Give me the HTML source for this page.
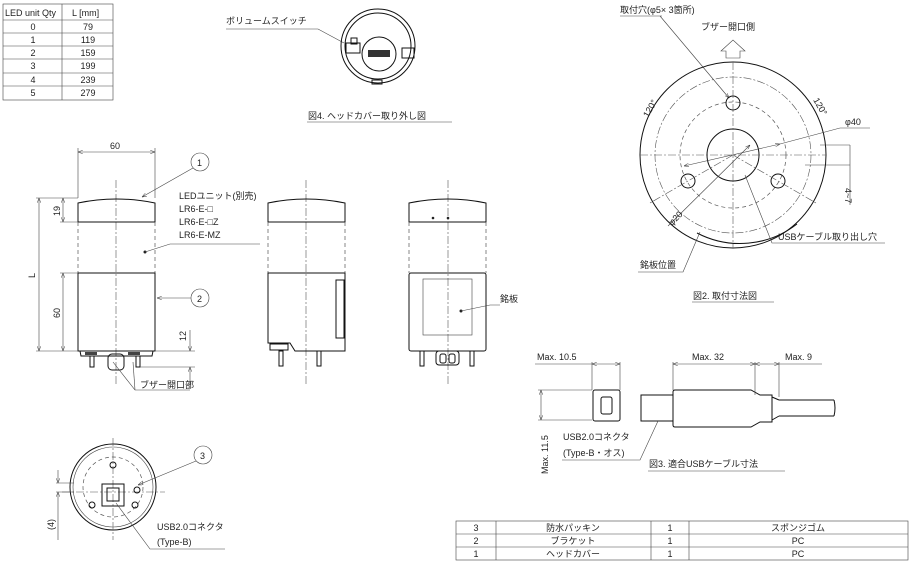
<!DOCTYPE html>
<html><head><meta charset="utf-8"><style>
html,body{margin:0;padding:0;background:#fff;}
svg{display:block;}
text{font-family:"Liberation Sans","Noto Sans CJK JP",sans-serif;font-size:9px;fill:#222;}
.l{stroke:#111;fill:none;stroke-width:1;}
.t{stroke:#444;fill:none;stroke-width:0.6;}
.c{stroke:#555;fill:none;stroke-width:0.6;stroke-dasharray:8 2 2 2;}
.d{stroke:#555;fill:none;stroke-width:0.7;stroke-dasharray:4 3;}
</style></head><body>
<svg width="910" height="561" viewBox="0 0 910 561" xmlns="http://www.w3.org/2000/svg">
<defs><marker id="a" markerWidth="8" markerHeight="6" refX="8" refY="3" orient="auto-start-reverse"><path d="M0,0 L8,3 L0,6" fill="none" stroke="#333" stroke-width="0.8"/></marker></defs>
<!-- top-left table -->
<rect x="3" y="4" width="110" height="96" class="t"/>
<line x1="62" y1="4" x2="62" y2="100" class="t"/>
<g class="t"><line x1="3" y1="20" x2="113" y2="20"/><line x1="3" y1="33" x2="113" y2="33"/><line x1="3" y1="46" x2="113" y2="46"/><line x1="3" y1="59" x2="113" y2="59"/><line x1="3" y1="73" x2="113" y2="73"/><line x1="3" y1="86" x2="113" y2="86"/></g>
<text x="5" y="16">LED unit Qty</text><text x="72" y="16">L [mm]</text>
<g text-anchor="middle"><text x="33" y="30">0</text><text x="88" y="30">79</text><text x="33" y="43">1</text><text x="88" y="43">119</text><text x="33" y="56">2</text><text x="88" y="56">159</text><text x="33" y="69">3</text><text x="88" y="69">199</text><text x="33" y="83">4</text><text x="88" y="83">239</text><text x="33" y="96">5</text><text x="88" y="96">279</text></g>
<!-- head cover removed view -->
<text x="226" y="24" font-size="8">ボリュームスイッチ</text>
<polyline points="226,29 318,29 344,43" class="t"/>
<circle cx="378" cy="46" r="37" class="l"/><circle cx="378" cy="46" r="33" class="l"/>
<circle cx="379" cy="54" r="17" class="l"/>
<rect x="368" y="50" width="22" height="7" fill="#333"/>
<rect x="346" y="43" width="14" height="10" class="l"/><rect x="351" y="38" width="6" height="6" class="l"/>
<rect x="402" y="48" width="12" height="10" class="l"/><rect x="372" y="80" width="10" height="4" class="l"/>
<text x="308" y="119" font-size="8">図4. ヘッドカバー取り外し図</text>
<line x1="307" y1="122" x2="452" y2="122" class="t"/>
<!-- front view 1 -->
<line x1="116" y1="180" x2="116" y2="385" class="c"/>
<line x1="78" y1="148" x2="78" y2="198" class="t"/><line x1="155" y1="148" x2="155" y2="198" class="t"/>
<line x1="78" y1="152" x2="155" y2="152" class="t" marker-start="url(#a)" marker-end="url(#a)"/>
<text x="110" y="149">60</text>
<path d="M78,222 L78,203 Q116,195 155,203 L155,222 Z" class="l"/>
<line x1="78" y1="222" x2="78" y2="273" class="d"/><line x1="155" y1="222" x2="155" y2="273" class="d"/>
<rect x="78" y="273" width="77" height="78" class="l"/>
<path d="M80,351 L153,351 L152,356 L81,356 Z" class="l"/>
<rect x="85" y="352" width="12" height="3" fill="#444"/><rect x="128" y="352" width="12" height="3" fill="#444"/>
<rect x="90" y="356" width="4" height="11" class="l"/><rect x="136" y="356" width="4" height="11" class="l"/>
<rect x="108" y="354" width="16" height="16" rx="4" class="l"/>
<line x1="36" y1="198" x2="78" y2="198" class="t"/><line x1="36" y1="351" x2="78" y2="351" class="t"/>
<line x1="39" y1="198" x2="39" y2="351" class="t" marker-start="url(#a)" marker-end="url(#a)"/>
<text x="35" y="278" transform="rotate(-90 35 278)">L</text>
<line x1="60" y1="222" x2="78" y2="222" class="t"/><line x1="60" y1="273" x2="78" y2="273" class="t"/>
<line x1="63" y1="198" x2="63" y2="222" class="t" marker-start="url(#a)" marker-end="url(#a)"/>
<line x1="63" y1="273" x2="63" y2="351" class="t" marker-start="url(#a)" marker-end="url(#a)"/>
<text x="60" y="216" transform="rotate(-90 60 216)">19</text><text x="60" y="318" transform="rotate(-90 60 318)">60</text>
<line x1="155" y1="351" x2="195" y2="351" class="t"/><line x1="140" y1="367" x2="195" y2="367" class="t"/>
<line x1="190" y1="330" x2="190" y2="351" class="t" marker-end="url(#a)"/><line x1="190" y1="385" x2="190" y2="367" class="t" marker-end="url(#a)"/>
<text x="186" y="341" transform="rotate(-90 186 341)">12</text>
<circle cx="200" cy="162" r="9" class="t"/><text x="197" y="166">1</text>
<line x1="193" y1="168" x2="142" y2="197" class="t" marker-end="url(#a)"/>
<circle cx="200" cy="298" r="9" class="t"/><text x="197" y="302">2</text>
<line x1="191" y1="298" x2="157" y2="298" class="t" marker-end="url(#a)"/>
<text x="179" y="199">LEDユニット(別売)</text><text x="179" y="212">LR6-E-□</text><text x="179" y="225">LR6-E-□Z</text><text x="179" y="238">LR6-E-MZ</text>
<circle cx="145" cy="252" r="1.5" fill="#222"/><polyline points="145,252 170,244 260,244" class="t"/>
<polyline points="113,362 135,390 190,390" class="t"/><line x1="133" y1="362" x2="135" y2="390" class="t"/>
<text x="140" y="388" font-size="8">ブザー開口部</text>
<!-- view 2 -->
<line x1="306" y1="180" x2="306" y2="385" class="c"/>
<path d="M268,222 L268,203 Q306,195 345,203 L345,222 Z" class="l"/>
<line x1="268" y1="222" x2="268" y2="273" class="d"/><line x1="345" y1="222" x2="345" y2="273" class="d"/>
<path d="M268,273 L345,273 L345,351 L295,351 L290,343 L268,343 Z" class="l"/>
<rect x="336" y="280" width="8" height="58" class="l"/>
<rect x="270" y="344" width="18" height="6" class="l"/>
<rect x="279" y="351" width="4" height="15" class="l"/><rect x="317" y="351" width="4" height="15" class="l"/>
<!-- view 3 -->
<line x1="448" y1="180" x2="448" y2="385" class="c"/>
<path d="M409,222 L409,203 Q448,195 486,203 L486,222 Z" class="l"/>
<circle cx="433" cy="218" r="1.3" fill="#222"/><circle cx="448" cy="218" r="1.3" fill="#222"/>
<line x1="409" y1="222" x2="409" y2="273" class="d"/><line x1="486" y1="222" x2="486" y2="273" class="d"/>
<rect x="409" y="273" width="77" height="78" rx="2" class="l"/>
<rect x="423" y="279" width="49" height="56" class="t"/>
<circle cx="461" cy="311" r="1.5" fill="#222"/><polyline points="461,311 490,305 500,305" class="t"/>
<text x="500" y="302">銘板</text>
<rect x="420" y="351" width="4" height="15" class="l"/><rect x="470" y="351" width="4" height="15" class="l"/>
<rect x="436" y="351" width="23" height="14" rx="3" class="l"/><rect x="440" y="354" width="6" height="9" rx="2" class="l"/><rect x="449" y="354" width="6" height="9" rx="2" class="l"/>
<!-- bottom view -->
<circle cx="113" cy="487" r="43" class="l"/><circle cx="113" cy="487" r="40" class="t"/><circle cx="113" cy="487" r="30" class="d"/>
<line x1="113" y1="438" x2="113" y2="540" class="c"/><line x1="62" y1="492" x2="165" y2="492" class="c"/>
<rect x="102" y="484" width="22" height="22" class="l"/><rect x="107" y="488" width="12" height="13" class="l"/>
<circle cx="113" cy="465" r="3" class="l"/><circle cx="92" cy="505" r="3" class="l"/><circle cx="135" cy="505" r="3" class="l"/><circle cx="137" cy="490" r="3" class="l"/>
<line x1="56" y1="483" x2="74" y2="483" class="t"/><line x1="56" y1="492" x2="74" y2="492" class="t"/>
<line x1="58" y1="470" x2="58" y2="483" class="t" marker-end="url(#a)"/><line x1="58" y1="540" x2="58" y2="492" class="t" marker-end="url(#a)"/>
<text x="54" y="530" transform="rotate(-90 54 530)">(4)</text>
<circle cx="203" cy="455" r="9" class="t"/><text x="200" y="459">3</text>
<line x1="196" y1="461" x2="138" y2="485" class="t" marker-end="url(#a)"/>
<text x="157" y="530">USB2.0コネクタ</text><text x="157" y="545">(Type-B)</text>
<polyline points="116,503 150,549 225,549" class="t"/>
<!-- mounting figure -->
<text x="620" y="13" font-size="8">取付穴(φ5× 3箇所)</text>
<line x1="620" y1="16" x2="662" y2="16" class="t"/>
<line x1="660" y1="16" x2="729" y2="98" class="t" marker-end="url(#a)"/>
<text x="701" y="30" font-size="8">ブザー開口側</text>
<path d="M726,58 L726,51 L721,51 L733,40 L745,51 L740,51 L740,58 Z" class="t"/>
<circle cx="733" cy="155" r="93" class="l"/>
<circle cx="733" cy="155" r="78" class="c"/>
<circle cx="733" cy="155" r="53" class="d"/>
<circle cx="733" cy="155" r="26" class="l"/>
<circle cx="733" cy="103" r="7" class="l"/><circle cx="688" cy="181" r="7" class="l"/><circle cx="778" cy="181" r="7" class="l"/>
<line x1="733" y1="62" x2="733" y2="248" class="c"/><line x1="640" y1="155" x2="826" y2="155" class="c"/>
<line x1="733" y1="155" x2="650" y2="203" class="c"/><line x1="733" y1="155" x2="816" y2="203" class="c"/>
<path d="M697,233 A93,93 0 0 0 797,224" class="l" stroke-width="2"/>
<text x="648" y="118" transform="rotate(-60 648 118)">120°</text>
<text x="813" y="100" transform="rotate(60 813 100)">120°</text>
<line x1="684" y1="166" x2="780" y2="144" class="t" marker-start="url(#a)" marker-end="url(#a)"/>
<polyline points="780,144 840,128 870,128" class="t"/><text x="845" y="125">φ40</text>
<line x1="668" y1="226" x2="750" y2="145" class="t" marker-end="url(#a)"/>
<text x="672" y="226" transform="rotate(-45 672 226)">φ20</text>
<line x1="820" y1="145" x2="850" y2="145" class="t"/><line x1="805" y1="165" x2="850" y2="165" class="t"/>
<line x1="850" y1="145" x2="850" y2="205" class="t"/><text x="845" y="188" transform="rotate(90 845 188)">4~7</text>
<text x="778" y="240">USBケーブル取り出し穴</text>
<polyline points="745,175 772,243 885,243" class="t"/>
<text x="640" y="268" font-size="8">銘板位置</text>
<polyline points="638,272 683,272 700,232" class="t"/>
<text x="693" y="299" font-size="8">図2. 取付寸法図</text><line x1="692" y1="302" x2="774" y2="302" class="t"/>
<!-- USB cable figure -->
<text x="537" y="360">Max. 10.5</text><line x1="535" y1="364" x2="592" y2="364" class="t"/>
<line x1="592" y1="362" x2="592" y2="390" class="t"/><line x1="620" y1="362" x2="620" y2="390" class="t"/>
<line x1="592" y1="364" x2="620" y2="364" class="t" marker-start="url(#a)" marker-end="url(#a)"/>
<rect x="593" y="390" width="27" height="31" rx="2" class="l"/><rect x="601" y="397" width="11" height="17" rx="2" class="l"/>
<line x1="538" y1="390" x2="592" y2="390" class="t"/><line x1="538" y1="420" x2="592" y2="420" class="t"/>
<line x1="541" y1="390" x2="541" y2="420" class="t" marker-start="url(#a)" marker-end="url(#a)"/>
<text x="548" y="474" transform="rotate(-90 548 474)">Max. 11.5</text>
<rect x="641" y="395" width="32" height="26" class="l"/>
<path d="M673,392 Q673,390 675,390 L751,390 L760,395 L772,395 L772,422 L760,422 L751,427 L675,427 Q673,427 673,425 Z" class="l"/>
<line x1="779" y1="400" x2="834" y2="400" class="l"/><line x1="779" y1="416" x2="834" y2="416" class="l"/>
<path d="M834,400 Q836,408 834,416" class="l"/>
<line x1="772" y1="397" x2="779" y2="400" class="l"/><line x1="772" y1="420" x2="779" y2="416" class="l"/>
<line x1="673" y1="362" x2="673" y2="390" class="t"/><line x1="755" y1="362" x2="755" y2="395" class="t"/><line x1="779" y1="362" x2="779" y2="397" class="t"/>
<line x1="673" y1="364" x2="755" y2="364" class="t" marker-start="url(#a)" marker-end="url(#a)"/>
<line x1="755" y1="364" x2="779" y2="364" class="t" marker-start="url(#a)" marker-end="url(#a)"/>
<text x="692" y="360">Max. 32</text><text x="785" y="360">Max. 9</text><line x1="779" y1="364" x2="822" y2="364" class="t"/>
<text x="563" y="440">USB2.0コネクタ</text><text x="563" y="456">(Type-B・オス)</text>
<polyline points="562,460 640,460 658,421" class="t"/>
<text x="649" y="467">図3. 適合USBケーブル寸法</text><line x1="648" y1="471" x2="785" y2="471" class="t"/>
<!-- parts table -->
<rect x="456" y="521" width="452" height="39" class="t"/>
<line x1="456" y1="534" x2="908" y2="534" class="t"/><line x1="456" y1="547" x2="908" y2="547" class="t"/>
<line x1="496" y1="521" x2="496" y2="560" class="t"/><line x1="651" y1="521" x2="651" y2="560" class="t"/><line x1="689" y1="521" x2="689" y2="560" class="t"/>
<g text-anchor="middle" font-size="8"><text x="476" y="531">3</text><text x="573" y="531">防水パッキン</text><text x="670" y="531">1</text><text x="798" y="531">スポンジゴム</text>
<text x="476" y="544">2</text><text x="573" y="544">ブラケット</text><text x="670" y="544">1</text><text x="798" y="544">PC</text>
<text x="476" y="557">1</text><text x="573" y="557">ヘッドカバー</text><text x="670" y="557">1</text><text x="798" y="557">PC</text></g>
</svg>
</body></html>
